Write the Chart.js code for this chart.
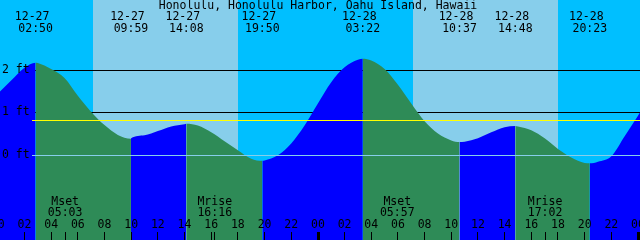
<!DOCTYPE html>
<html>
<head>
<meta charset="utf-8">
<script src="https://cdn.jsdelivr.net/npm/chart.js@4"></script>
<style>
  html, body { margin: 0; padding: 0; background: #00bfff; overflow: hidden; }
  canvas { display: block; }
</style>
</head>
<body>
<canvas id="tideChart" width="640" height="240"></canvas>
<script>
const title = 'Honolulu, Honolulu Harbor, Oahu Island, Hawaii';
const days = ['12-27', '12-28'];

// tide height (ft) at every full hour, from 12-27 00:00
const hourlyHeights = [
  1.45, 1.76, 2.06, 2.17, 2.03, 1.82, 1.40, 1.02, 0.71, 0.48,    // 00-09
  0.40, 0.47, 0.57, 0.68, 0.73, 0.70, 0.54, 0.33, 0.12, -0.08,   // 10-19
  -0.12, 0.00, 0.28, 0.70, 1.22, 1.72, 2.07, 2.25, 2.23, 2.03,   // 20-29
  1.66, 1.22, 0.80, 0.51, 0.35, 0.32, 0.40, 0.54, 0.66, 0.68,    // 30-39
  0.59, 0.40, 0.15, -0.05, -0.18, -0.15, -0.02, 0.45, 0.93, 1.45 // 40-49
];

// highs and lows
const tideDates = ['12-27', '12-27', '12-27', '12-27', '12-28', '12-28', '12-28', '12-28'];
const tideTimes = ['02:50', '09:59', '14:08', '19:50', '03:22', '10:37', '14:48', '20:23'];
const tideHeights = [2.18, 0.39, 0.74, -0.13, 2.27, 0.31, 0.69, -0.19];

const sunrise = ['07:08', '07:08'];
const sunset = ['18:01', '18:01'];

const moonLabels = ['Mset', 'Mrise', 'Mset', 'Mrise'];
const moonDates = ['12-27', '12-27', '12-28', '12-28'];
const moonTimes = ['05:03', '16:16', '05:57', '17:02'];

const levelFeet = [2, 1, 0];
const levelLabels = ['2 ft', '1 ft', '0 ft'];
const meanLevel = 0.82;

const tickLabels = ['00', '02', '04', '06', '08', '10', '12', '14', '16', '18', '20', '22',
                    '00', '02', '04', '06', '08', '10', '12', '14', '16', '18', '20', '22', '00'];

const NIGHT = '#00bfff';
const DAY = '#87ceeb';
const RISING = '#0000ff';
const FALLING = '#2e8b57';
const FONT = '11.5px "DejaVu Sans Mono", monospace';

function toHours(date, time) {
  const [h, m] = time.split(':').map(Number);
  return days.indexOf(date) * 24 + h + m / 60;
}

function hline(ctx, x0, x1, y) {
  const py = Math.floor(y) + 0.5;
  ctx.beginPath();
  ctx.moveTo(x0, py);
  ctx.lineTo(x1, py);
  ctx.stroke();
}

const points = [];
hourlyHeights.forEach((v, h) => points.push({ x: h, y: v }));
tideTimes.forEach((t, i) => points.push({ x: toHours(tideDates[i], t), y: tideHeights[i] }));
points.sort((a, b) => a.x - b.x);

const tideDecor = {
  id: 'tideDecor',
  beforeDatasetsDraw(chart) {
    const { ctx, chartArea: a, scales: { x, y } } = chart;
    ctx.save();
    ctx.fillStyle = NIGHT;
    ctx.fillRect(a.left, a.top, a.width, a.height);
    ctx.fillStyle = DAY;
    days.forEach((d, i) => {
      const x0 = Math.round(x.getPixelForValue(toHours(d, sunrise[i])));
      const x1 = Math.round(x.getPixelForValue(toHours(d, sunset[i])));
      ctx.fillRect(x0, a.top, x1 - x0, a.height);
    });
    // black level lines sit behind the water
    ctx.strokeStyle = '#000';
    ctx.lineWidth = 1;
    levelFeet.filter(v => v > 0).forEach(v => hline(ctx, 32, a.right, y.getPixelForValue(v)));
    ctx.restore();
  },
  afterDatasetsDraw(chart) {
    const { ctx, chartArea: a, scales: { x, y } } = chart;
    ctx.save();
    ctx.lineWidth = 1;
    ctx.strokeStyle = '#ffff00';
    hline(ctx, 32, a.right, y.getPixelForValue(meanLevel));
    ctx.strokeStyle = DAY;
    hline(ctx, 32, a.right, y.getPixelForValue(0));

    ctx.font = FONT;
    ctx.fillStyle = '#000';
    ctx.textBaseline = 'middle';

    // level labels
    ctx.textAlign = 'left';
    levelLabels.forEach((t, i) => ctx.fillText(t, 2, Math.floor(y.getPixelForValue(levelFeet[i])) + 0.5));

    ctx.textAlign = 'center';
    ctx.fillText(title, 318, 6.5);

    // high / low times
    tideTimes.forEach((t, i) => {
      const px = x.getPixelForValue(toHours(tideDates[i], t));
      ctx.fillText(tideDates[i], px - 3.5, 17);
      ctx.fillText(t, px, 29);
    });

    // moon rise / set
    moonTimes.forEach((t, i) => {
      const px = x.getPixelForValue(toHours(moonDates[i], t));
      ctx.fillText(moonLabels[i], px, 202);
      ctx.fillText(t, px, 213);
      ctx.fillRect(Math.floor(px), 232, 1, 8);
    });

    // hour ticks
    tickLabels.forEach((t, i) => {
      const px = x.getPixelForValue(i * 2);
      ctx.fillText(t, px, 225.5);
      if (i % 12 === 0) ctx.fillRect(Math.round(px) - 1, 232, 3, 8);
      else ctx.fillRect(Math.floor(px), 232, 1, 8);
    });
    ctx.restore();
  }
};

new Chart(document.getElementById('tideChart'), {
  type: 'line',
  data: {
    datasets: [{
      data: points,
      fill: 'start',
      borderColor: 'transparent',
      borderWidth: 0,
      pointRadius: 0,
      cubicInterpolationMode: 'monotone',
      backgroundColor: RISING,
      segment: {
        backgroundColor: c => c.p1.parsed.y < c.p0.parsed.y ? FALLING : RISING
      }
    }]
  },
  options: {
    responsive: false,
    animation: false,
    events: [],
    layout: { padding: 0 },
    plugins: { legend: { display: false }, tooltip: { enabled: false } },
    scales: {
      x: { type: 'linear', display: false, min: 0.165, max: 48.15 },
      y: { display: false, min: -1.993, max: 3.654 }
    }
  },
  plugins: [tideDecor]
});
</script>
</body>
</html>
